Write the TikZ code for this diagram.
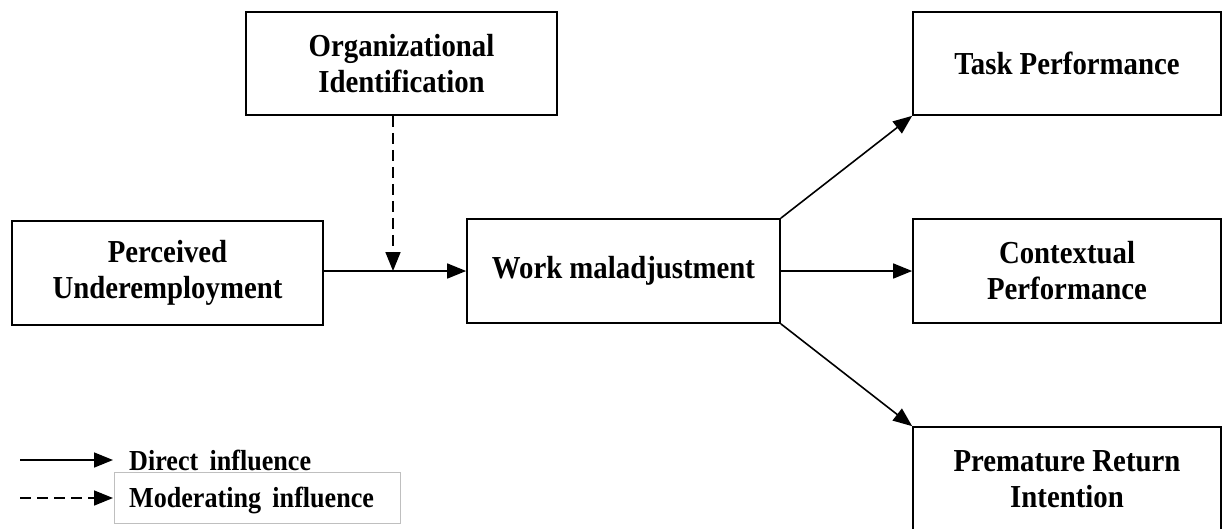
\documentclass[tikz,border=0pt]{standalone}
\usepackage{fontspec}
\setmainfont{Liberation Serif}
\newfontfamily\diagfont{Liberation Serif Bold}[FakeStretch=0.9]
\usetikzlibrary{arrows.meta}
\begin{document}
\begin{tikzpicture}[x=1pt,y=-1pt,
  box/.style={draw, line width=1.7pt, rectangle, inner sep=0pt, align=center,
    font=\fontsize{32}{36}\diagfont},
  conn/.style={line width=1.6pt, -{Triangle[length=19pt,width=15pt]}},
  modconn/.style={conn, dash pattern=on 11pt off 6pt},
  legtext/.style={font=\fontsize{29}{31}\diagfont, anchor=west, inner sep=0pt}
]
\useasboundingbox (0,0) rectangle (1222,528);
\node[box, minimum width=311pt, minimum height=103pt] (org) at (401.5,63.5) {Organizational\\Identification};
\node[box, minimum width=311pt, minimum height=104pt] (perc) at (167.5,273) {Perceived\\Underemployment};
\node[box, minimum width=313pt, minimum height=104pt] (work) at (623.5,271) {Work maladjustment};
\node[box, minimum width=308pt, minimum height=103pt] (task) at (1067,63.5) {Task Performance};
\node[box, minimum width=308pt, minimum height=104pt] (ctx) at (1067,271) {Contextual\\Performance};
\node[box, minimum width=308pt, minimum height=104pt] (prem) at (1067,479) {Premature Return\\Intention};

\draw[conn] (perc.east |- work.west) -- (work.west);
\coordinate (mod) at (393,271);
\draw[modconn] (org.south -| mod) -- (mod);
\draw[conn] (work.north east) -- (task.south west);
\draw[conn] (work.east) -- (ctx.west);
\draw[conn] (work.south east) -- (prem.north west);

% legend
\coordinate (l1a) at (20,460);
\coordinate (l1b) at (113,460);
\coordinate (l2a) at (20,498);
\coordinate (l2b) at (113,498);
\draw[conn] (l1a) -- (l1b);
\draw[modconn] (l2a) -- (l2b);
\node[legtext] (ltxt1) at (129,460) {Direct\, influence};
\draw[draw=black!25, line width=0.8pt] (114,472) rectangle (400,523);
\node[legtext] (ltxt2) at (129,500) {Moderating\, influence};
\end{tikzpicture}
\end{document}
